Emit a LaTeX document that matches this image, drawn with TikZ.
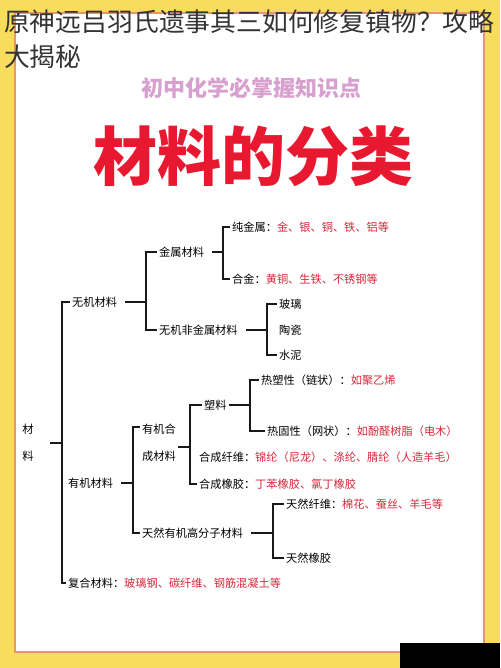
\documentclass[tikz,border=0pt]{standalone}
\usepackage{fontspec}
\usepackage{xcolor}
\usetikzlibrary{calc}
\newfontfamily\cjk{Noto Sans CJK SC}
\definecolor{bgyellow}{RGB}{248,220,92}
\definecolor{frameorange}{RGB}{232,150,100}
\definecolor{itemred}{RGB}{214,40,58}
\definecolor{titlered}{RGB}{232,24,48}
\definecolor{headpink}{RGB}{216,160,206}
\newcommand{\eg}[1]{{\color{itemred}#1}}

\begin{document}
\begin{tikzpicture}[x=1pt,y=-1pt,
  item/.style={anchor=west,inner sep=2pt,font=\cjk\fontsize{11.2}{13}\selectfont,text=black},
  twoline/.style={item,align=left,font=\cjk\fontsize{11.2}{27}\selectfont},
  br/.style={line width=1.6pt,black!90},
  stub/.style={br,shorten <=6pt}]
  \useasboundingbox (0,0) rectangle (500,668);
  % page background and white card
  \fill[bgyellow] (0,0) rectangle (500,668);
  \draw[frameorange,line width=2pt,fill=white] (15,13) rectangle (484,652);
  \fill[black] (400,643) rectangle (500,668);
  % headings
  \node[anchor=base west,align=left,inner sep=0pt,text=black!80,
        font=\cjk\fontsize{25.8}{35}\selectfont] (pagetitle) at (4,67)
        {原神远吕羽氏遗事其三如何修复镇物？攻略\\大揭秘};
  \node[text=headpink,font=\cjk\bfseries\fontsize{22}{22}\selectfont] (subhead) at (251,88) {初中化学必掌握知识点};
  \node[text=titlered,font=\cjk\bfseries\fontsize{64}{64}\selectfont] (maintitle) at (253,156) {材料的分类};

  % tree nodes
  \node[twoline,anchor=center,align=center] (cailiao) at (28,443) {材\\料};
  \node[item] (wuji) at (70,302) {无机材料};
  \node[item] (youji) at (66,483) {有机材料};
  \node[item] (fuhe) at (66,583) {复合材料：\eg{玻璃钢、碳纤维、钢筋混凝土等}};
  \node[item] (jinshu) at (157,252) {金属材料};
  \node[item] (feijinshu) at (157,330) {无机非金属材料};
  \node[item] (chun) at (230,227) {纯金属：\eg{金、银、铜、铁、铝等}};
  \node[item] (hejin) at (230,279) {合金：\eg{黄铜、生铁、不锈钢等}};
  \node[item] (boli) at (277,304) {玻璃};
  \node[item] (taoci) at (277,330) {陶瓷};
  \node[item] (shuini) at (277,355) {水泥};
  \node[twoline] (hecheng) at (140,443) {有机合\\成材料};
  \node[item] (suliao) at (202,405) {塑料};
  \node[item] (xianwei) at (197,457) {合成纤维：\eg{锦纶（尼龙）、涤纶、腈纶（人造羊毛）}};
  \node[item] (xiangjiao) at (197,484) {合成橡胶：\eg{丁苯橡胶、氯丁橡胶}};
  \node[item] (resu) at (259,380) {热塑性（链状）：\eg{如聚乙烯}};
  \node[item] (regu) at (265,431) {热固性（网状）：\eg{如酚醛树脂（电木）}};
  \node[item] (tianran) at (140,533) {天然有机高分子材料};
  \node[item] (trxw) at (284,504) {天然纤维：\eg{棉花、蚕丝、羊毛等}};
  \node[item] (trxj) at (284,558) {天然橡胶};

  % bracket junctions
  \coordinate (jroot) at (62,443);
  \coordinate (jwuji) at (146,302);
  \coordinate (jjinshu) at (223,252);
  \coordinate (jfei) at (267,330);
  \coordinate (jyouji) at (133,483);
  \coordinate (jhecheng) at (190,447);
  \coordinate (jsuliao) at (250,405);
  \coordinate (jtianran) at (273,533);

  % brackets
  \draw[br] ([xshift=14pt]cailiao.east) -- (jroot);
  \draw[br] (wuji.west) -| (jroot) |- (fuhe.west);
  \draw[stub] (wuji.east) -- (jwuji);
  \draw[br] (jinshu.west) -| (jwuji) |- (feijinshu.west);
  \draw[stub] (jinshu.east) -- (jjinshu);
  \draw[br] (chun.west) -| (jjinshu) |- (hejin.west);
  \draw[stub] (feijinshu.east) -- (jfei);
  \draw[br] (boli.west) -| (jfei) |- (shuini.west);
  \draw[stub] (youji.east) -- (jyouji);
  \draw[br] ([yshift=16pt]hecheng.west) -| (jyouji) |- (tianran.west);
  \draw[br] ([yshift=-4pt]hecheng.east) -- (jhecheng);
  \draw[br] (suliao.west) -| (jhecheng) |- (xiangjiao.west);
  \draw[br] (suliao.east) -- (jsuliao);
  \draw[br] (resu.west) -| (jsuliao) |- (regu.west);
  \draw[stub] (tianran.east) -- (jtianran);
  \draw[br] (trxw.west) -| (jtianran) |- (trxj.west);
\end{tikzpicture}
\end{document}
